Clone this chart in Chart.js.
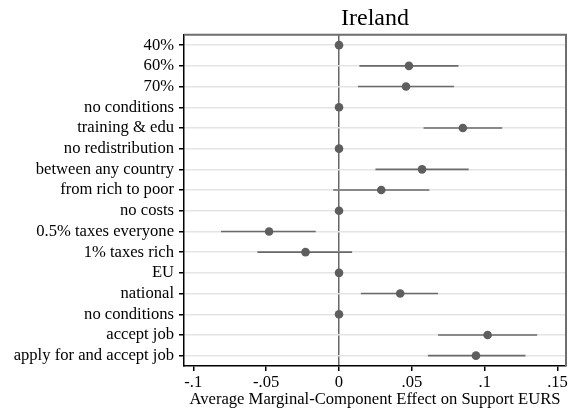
<!DOCTYPE html>
<html>
<head>
<meta charset="utf-8">
<script src="https://cdn.jsdelivr.net/npm/chart.js@4/dist/chart.umd.min.js"></script>
<style>
  html, body { margin: 0; padding: 0; background: #fff; }
  #wrap { width: 572px; height: 412px; }
</style>
</head>
<body>
<div id="wrap"><canvas id="chart" width="572" height="412"></canvas></div>
<script>
"use strict";

// rows, top to bottom
const labels = ['40%', '60%', '70%', 'no conditions', 'training & edu', 'no redistribution',
    'between any country', 'from rich to poor', 'no costs', '0.5% taxes everyone',
    '1% taxes rich', 'EU', 'national', 'no conditions', 'accept job', 'apply for and accept job'];
const estimate = [0, 0.048, 0.046, 0, 0.085, 0, 0.057, 0.029, 0, -0.048, -0.023, 0, 0.042, 0, 0.102, 0.094];
const lower = [null, 0.014, 0.013, null, 0.058, null, 0.025, -0.004, null, -0.081, -0.056, null, 0.015, null, 0.068, 0.061];
const upper = [null, 0.082, 0.079, null, 0.112, null, 0.089, 0.062, null, -0.016, 0.009, null, 0.068, null, 0.136, 0.128];
const xTicks = [-0.1, -0.05, 0, 0.05, 0.1, 0.15];

const FONT = "'Liberation Serif', 'Times New Roman', serif";

/* points for the estimates */
const pointData = estimate.map((v, i) => ({ x: v, y: i }));

/* confidence intervals as one broken line */
const ciData = [];
lower.forEach((lo, i) => {
    if (lo === null) return;
    ciData.push({ x: lo, y: i }, { x: upper[i], y: i }, { x: null, y: i });
});

/* grey frame on top and right side */
const framePlugin = {
    id: 'frame',
    afterDraw(chart) {
        const a = chart.chartArea;
        const ctx = chart.ctx;
        ctx.save();
        ctx.strokeStyle = '#6e6e6e';
        ctx.lineWidth = 2;
        ctx.beginPath();
        ctx.moveTo(a.left, a.top);
        ctx.lineTo(a.right, a.top);
        ctx.lineTo(a.right, a.bottom);
        ctx.stroke();
        ctx.restore();
    }
};

const fmt = (v) => {
    const r = Math.round(v * 100) / 100;
    return String(r).replace('0.', '.');
};

new Chart(document.getElementById('chart'), {
    type: 'scatter',
    data: {
        datasets: [
            {
                data: pointData,
                pointRadius: 4.3,
                pointBackgroundColor: '#5e5e5e',
                pointBorderColor: '#5e5e5e',
                pointBorderWidth: 0,
                showLine: false
            },
            {
                data: ciData,
                showLine: true,
                spanGaps: false,
                pointRadius: 0,
                borderColor: '#6a6a6a',
                borderWidth: 1.6
            }
        ]
    },
    options: {
        responsive: false,
        animation: false,
        events: [],
        layout: { padding: { left: 0, right: 6, top: 0, bottom: 0 } },
        plugins: {
            legend: { display: false },
            tooltip: { enabled: false },
            title: {
                display: true,
                text: 'Ireland',
                fullSize: false,
                color: '#000',
                font: { family: FONT, size: 24, weight: 'normal', lineHeight: 1.2 },
                padding: { top: 4, bottom: 2 }
            }
        },
        scales: {
            x: {
                type: 'linear',
                min: -0.1064,
                max: 0.1558,
                afterBuildTicks: (scale) => { scale.ticks = xTicks.map(v => ({ value: v })); },
                afterFit: (scale) => { scale.height = 46; },
                ticks: {
                    color: '#000',
                    font: { family: FONT, size: 16.6 },
                    padding: 2,
                    maxRotation: 0,
                    callback: (v) => fmt(v)
                },
                grid: {
                    color: (c) => (c.tick && c.tick.value === 0) ? '#666' : 'rgba(0,0,0,0)',
                    lineWidth: 1.5,
                    tickColor: '#000',
                    tickLength: 5
                },
                border: { color: '#000', width: 1.5 },
                title: {
                    display: true,
                    text: 'Average Marginal-Component Effect on Support EURS',
                    color: '#000',
                    font: { family: FONT, size: 16.6 },
                    padding: { top: 0, bottom: 2 }
                }
            },
            y: {
                type: 'linear',
                reverse: true,
                min: -0.5,
                max: 15.5,
                afterBuildTicks: (scale) => { scale.ticks = labels.map((_, i) => ({ value: i })); },
                afterFit: (scale) => { scale.width = 184; },
                ticks: {
                    color: '#000',
                    font: { family: FONT, size: 16.6 },
                    padding: 5,
                    autoSkip: false,
                    callback: (v) => labels[v]
                },
                grid: {
                    color: '#e4e4e4',
                    lineWidth: 1.5,
                    tickColor: '#000',
                    tickLength: 5
                },
                border: { color: '#000', width: 1.5 }
            }
        }
    },
    plugins: [framePlugin]
});
</script>
</body>
</html>
